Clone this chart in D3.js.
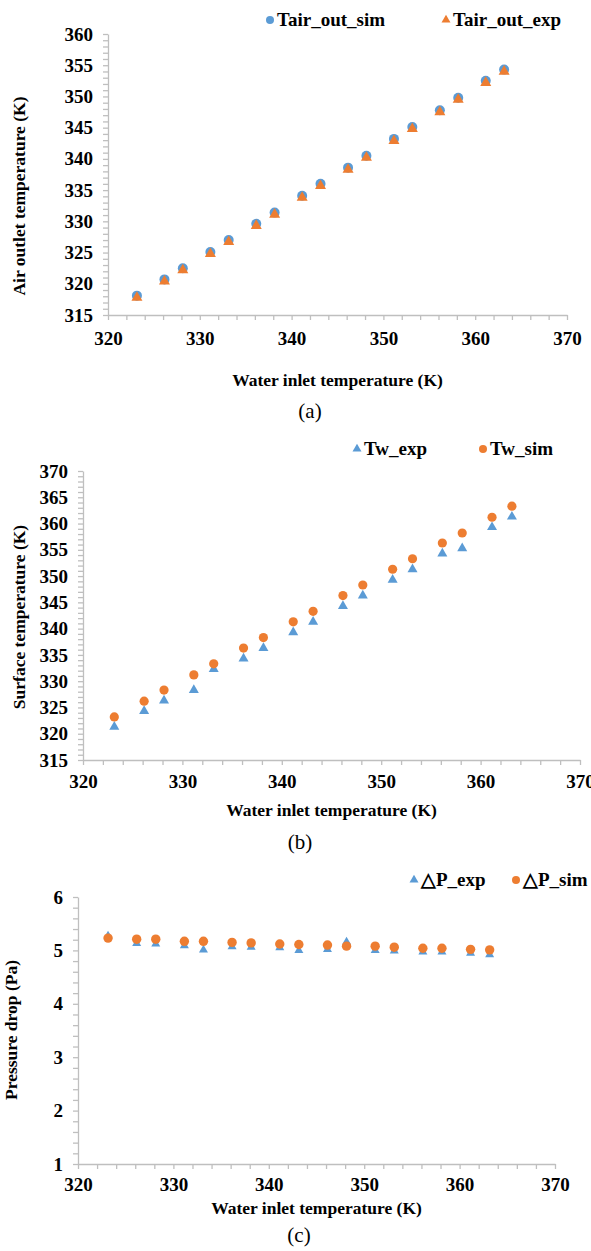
<!DOCTYPE html>
<html>
<head>
<meta charset="utf-8">
<script src="https://cdn.jsdelivr.net/npm/d3@7"></script>
<style>
  body { margin: 0; background: #fff; }
  svg { display: block; }
  .axis path, .axis line { stroke: #bfbfbf; stroke-width: 1.3; }
  .axis text { font-family: "Liberation Serif", "Times New Roman", serif; font-weight: bold; font-size: 19px; fill: #000; }
  .ttl { font-family: "Liberation Serif", "Times New Roman", serif; font-weight: bold; font-size: 17.5px; fill: #000; }
  .leg { font-family: "Liberation Serif", "Times New Roman", serif; font-weight: bold; font-size: 19px; fill: #000; }
  .cap { font-family: "Liberation Serif", "Times New Roman", serif; font-size: 21px; fill: #000; }
</style>
</head>
<body>
<div id="chart"></div>
<script>
// water inlet temperature, K (50..90 C)
const waterInlet = [323.15, 326.15, 328.15, 331.15, 333.15, 336.15, 338.15, 341.15, 343.15,
                    346.15, 348.15, 351.15, 353.15, 356.15, 358.15, 361.15, 363.15];

// (a) air outlet temperature
const tairOutSim = [318.1, 320.7, 322.5, 325.1, 327.0, 329.6, 331.4, 334.1, 336.0,
                    338.6, 340.5, 343.2, 345.1, 347.8, 349.8, 352.5, 354.3];
const tairOutExp = [317.8, 320.4, 322.2, 324.8, 326.7, 329.3, 331.1, 333.8, 335.7,
                    338.3, 340.2, 342.9, 344.8, 347.5, 349.5, 352.2, 354.0];

// (b) surface temperature
const twExp = [321.3, 324.3, 326.3, 328.3, 332.3, 334.3, 336.3, 339.3, 341.3,
               344.3, 346.3, 349.3, 351.3, 354.3, 355.3, 359.3, 361.3];
const twSim = [323.2, 326.2, 328.3, 331.2, 333.3, 336.3, 338.3, 341.3, 343.3,
               346.3, 348.3, 351.3, 353.3, 356.3, 358.2, 361.2, 363.3];

// (c) pressure drop
const dpExp = [5.27, 5.13, 5.12, 5.09, 5.01, 5.07, 5.06, 5.05, 5.00,
               5.02, 5.16, 5.00, 4.99, 4.97, 4.97, 4.95, 4.92];
const dpSim = [5.23, 5.21, 5.21, 5.17, 5.17, 5.15, 5.14, 5.12, 5.11,
               5.10, 5.08, 5.08, 5.06, 5.04, 5.04, 5.02, 5.01];

const xTickLabels = [320, 330, 340, 350, 360, 370];

const blue = "#5B9BD5", orange = "#ED7D31";

const W = 591, H = 1251;
const svg = d3.select("#chart").append("svg")
    .attr("width", W)
    .attr("height", H);

svg.append("rect").attr("width", W).attr("height", H).attr("fill", "#fff");

const circleSym = r => d3.symbol(d3.symbolCircle, Math.PI * r * r)();
const triSym = w => d3.symbol(d3.symbolTriangle, Math.sqrt(3) / 4 * w * w)();

function drawPanel(p) {
    const x = d3.scaleLinear().domain([320, 370]).range([p.left, p.right]);
    const y = d3.scaleLinear().domain(p.yDomain).range([p.bottom, p.top]);
    const g = svg.append("g");

    // x axis, ticks every 2 K, labels every 10
    g.append("g")
        .attr("class", "axis")
        .attr("transform", `translate(0,${p.bottom})`)
        .call(d3.axisBottom(x)
            .tickValues(d3.range(320, 370.01, 2))
            .tickSize(5).tickSizeOuter(0)
            .tickPadding(p.xPad)
            .tickFormat(d => xTickLabels.includes(d) ? d : ""));

    // y axis
    const yt = d3.range(p.yDomain[0], p.yDomain[1] + 1e-6, p.yMinor);
    g.append("g")
        .attr("class", "axis")
        .attr("transform", `translate(${p.left},0)`)
        .call(d3.axisLeft(y)
            .tickValues(yt)
            .tickSize(5).tickSizeOuter(0)
            .tickPadding(10)
            .tickFormat(d => {
                const k = (d - p.yDomain[0]) / p.yMajor;
                return Math.abs(k - Math.round(k)) < 1e-6 ? d3.format("d")(Math.round(d)) : "";
            }));

    // series
    p.series.forEach(s => {
        g.append("g").selectAll("path")
            .data(waterInlet.map((w, i) => [w, s.values[i]]))
            .join("path")
            .attr("transform", d => `translate(${x(d[0])},${y(d[1])})`)
            .attr("d", s.shape === "circle" ? circleSym(p.r) : triSym(p.tw))
            .attr("fill", s.color);
    });

    // legend
    p.series.forEach(s => {
        const lg = g.append("g").attr("transform", `translate(${s.legX},${p.legY})`);
        lg.append("path")
            .attr("d", s.shape === "circle" ? circleSym(4) : triSym(9))
            .attr("fill", s.color);
        lg.append("text")
            .attr("class", "leg")
            .attr("x", 7)
            .attr("y", 6)
            .text(s.name);
    });

    // axis titles
    g.append("text")
        .attr("class", "ttl")
        .attr("text-anchor", "middle")
        .attr("x", (p.left + p.right) / 2)
        .attr("y", p.xTitleY)
        .text("Water inlet temperature (K)");

    g.append("text")
        .attr("class", "ttl")
        .attr("text-anchor", "middle")
        .attr("transform", `translate(${p.yTitleX},${p.yTitleCy}) rotate(-90)`)
        .text(p.yTitle);

    g.append("text")
        .attr("class", "cap")
        .attr("text-anchor", "middle")
        .attr("x", p.capX)
        .attr("y", p.capY)
        .text(p.cap);
}

drawPanel({
    left: 108, right: 567, top: 34, bottom: 315,
    yDomain: [315, 360], yMajor: 5, yMinor: 1, xPad: 12,
    r: 5, tw: 11, legY: 20,
    series: [
        {name: "Tair_out_sim", values: tairOutSim, shape: "circle", color: blue, legX: 270},
        {name: "Tair_out_exp", values: tairOutExp, shape: "triangle", color: orange, legX: 446}
    ],
    xTitleY: 386, yTitle: "Air outlet temperature (K)", yTitleX: 25, yTitleCy: 196,
    cap: "(a)", capX: 310, capY: 418
});

drawPanel({
    left: 83, right: 580, top: 471, bottom: 760,
    yDomain: [315, 370], yMajor: 5, yMinor: 1, xPad: 10,
    r: 4.6, tw: 10, legY: 449,
    series: [
        {name: "Tw_exp", values: twExp, shape: "triangle", color: blue, legX: 357},
        {name: "Tw_sim", values: twSim, shape: "circle", color: orange, legX: 483}
    ],
    xTitleY: 816, yTitle: "Surface temperature (K)", yTitleX: 25, yTitleCy: 617,
    cap: "(b)", capX: 300, capY: 849
});

drawPanel({
    left: 78, right: 555, top: 897, bottom: 1164,
    yDomain: [1, 6], yMajor: 1, yMinor: 0.2, xPad: 9,
    r: 4.7, tw: 9, legY: 880,
    series: [
        {name: "△P_exp", values: dpExp, shape: "triangle", color: blue, legX: 414},
        {name: "△P_sim", values: dpSim, shape: "circle", color: orange, legX: 516}
    ],
    xTitleY: 1214, yTitle: "Pressure drop (Pa)", yTitleX: 17, yTitleCy: 1030,
    cap: "(c)", capX: 299, capY: 1242
});
</script>
</body>
</html>
